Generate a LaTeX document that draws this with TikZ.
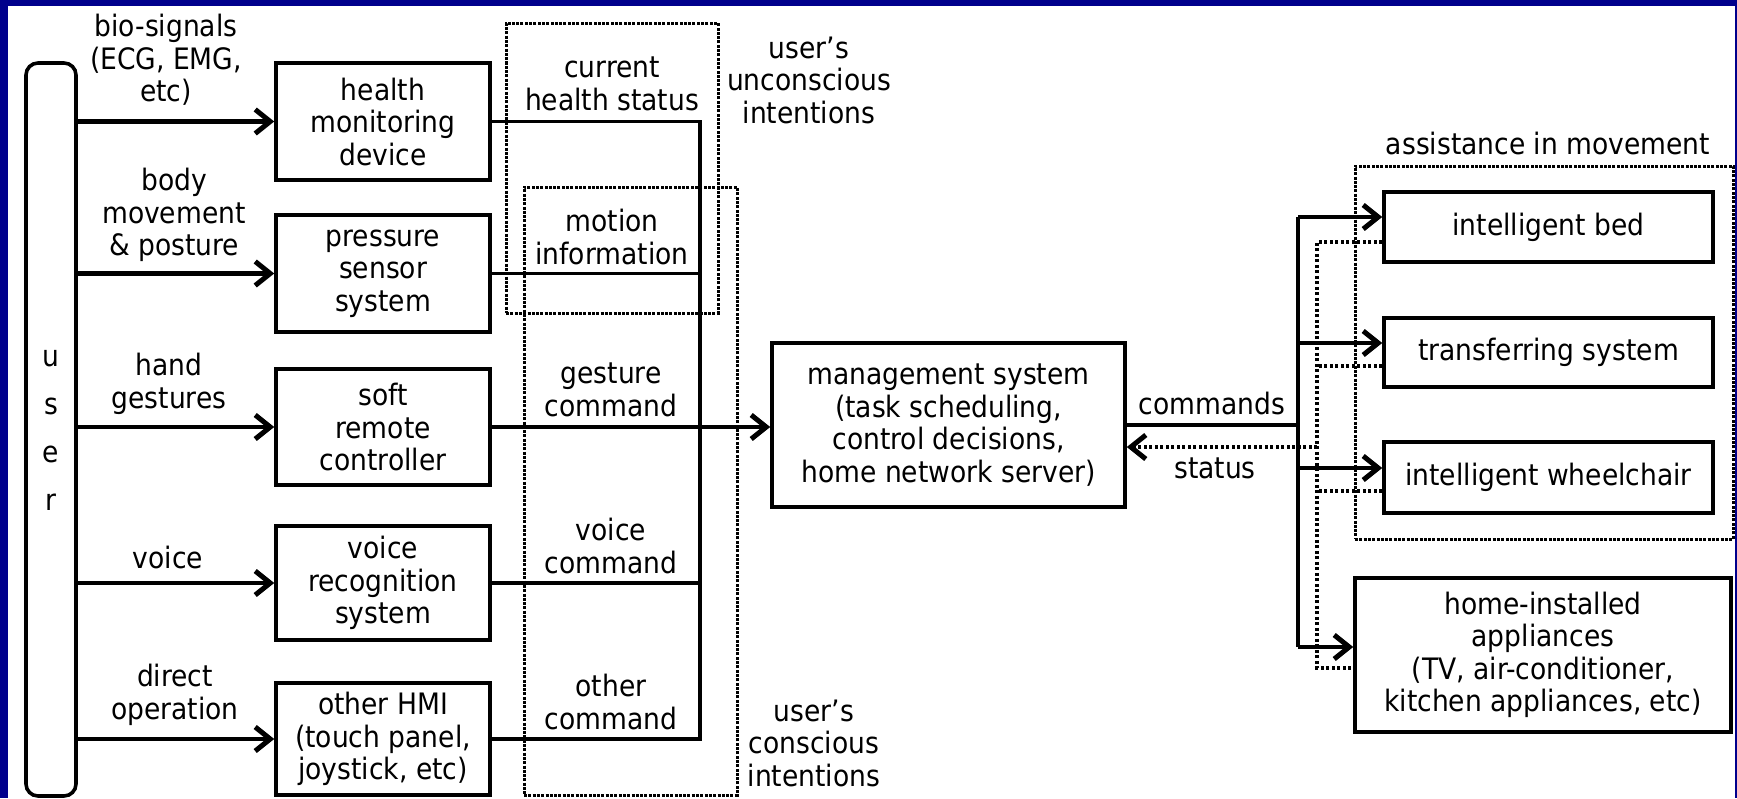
\documentclass[tikz,border=0pt]{standalone}
\usepackage{fontspec}
\setmainfont{DejaVu Sans Condensed}
\usetikzlibrary{arrows.meta}
\definecolor{slideblue}{RGB}{0,0,140}
\begin{document}
\begin{tikzpicture}[x=1pt,y=-1pt,
  every node/.style={font=\fontsize{29.5}{32.5}\selectfont, inner sep=0pt, align=center},
  box/.style={draw, line width=3.6pt, fill=white},
  dbox/.style={draw, line width=3pt, dash pattern=on 3pt off 1.3pt},
  conn/.style={line width=3.4pt},
  dots/.style={line width=4pt, dash pattern=on 3pt off 2.5pt},
  tipb/.tip={Straight Barb[length=15pt,width=24pt,line width=5pt]},
  arr/.style={line width=4.4pt, -tipb}
]
\useasboundingbox (0,0) rectangle (1737,798);
\fill[slideblue] (0,0) rectangle (1737,798);
\fill[white] (8,6) rectangle (1735,798);

% dotted group boxes
\node[dbox, minimum width=212pt, minimum height=290pt] (unc) at (612,168) {};
\node[dbox, minimum width=213pt, minimum height=608pt] (con) at (630.5,491) {};
\node[dbox, minimum width=378pt, minimum height=373pt] (assist) at (1544,352.5) {};

% user
\node[draw, line width=3.6pt, rounded corners=12pt, minimum width=50pt, minimum height=733pt] (user) at (51,429.5) {};
\node[font=\fontsize{29.5}{48}\selectfont] (userlbl) at (51,430) {u\\s\\e\\r};

% left boxes
\node[box, minimum width=214pt, minimum height=117pt] (health) at (383,121.5) {health\\monitoring\\device};
\node[box, minimum width=214pt, minimum height=117pt] (pressure) at (383,273.5) {pressure\\sensor\\system};
\node[box, minimum width=214pt, minimum height=116pt] (soft) at (383,427) {soft\\remote\\controller};
\node[box, minimum width=214pt, minimum height=114pt] (voice) at (383,583) {voice\\recognition\\system};
\node[box, minimum width=214pt, minimum height=112pt] (hmi) at (383,739) {other HMI\\(touch panel,\\joystick, etc)};

% management
\node[box, minimum width=353pt, minimum height=164pt] (mgmt) at (948.5,425) {management system\\(task scheduling,\\control decisions,\\home network server)};

% right boxes
\node[box, minimum width=329pt, minimum height=70pt] (bed) at (1548.5,227) {intelligent bed};
\node[box, minimum width=329pt, minimum height=69pt] (trans) at (1548.5,352.5) {transferring system};
\node[box, minimum width=329pt, minimum height=71pt] (wheel) at (1548.5,477.5) {intelligent wheelchair};
\node[box, minimum width=376pt, minimum height=154pt] (appl) at (1543,655) {home-installed\\appliances\\(TV, air-conditioner,\\kitchen appliances, etc)};

% labels
\node (l1) at (166,60) {bio-signals\\(ECG, EMG,\\etc)};
\node (l2) at (174,215) {body\\movement\\\& posture};
\node (l3) at (169,384) {hand\\gestures};
\node (l4) at (168,557) {voice};
\node (l5) at (175,695) {direct\\operation};
\node (m1) at (612,84) {current\\health status};
\node (m2) at (612,237) {motion\\information};
\node (m3) at (611,390) {gesture\\command};
\node (m4) at (611,546) {voice\\command};
\node (m5) at (611,702) {other\\command};
\node (u1) at (809,80) {user’s\\unconscious\\intentions};
\node (u2) at (814,743) {user’s\\conscious\\intentions};
\node (cmd) at (1212,403) {commands};
\node (st) at (1215,468) {status};
\node (as) at (1548,143) {assistance in movement};

% user -> devices
\draw[arr] (user.east |- health.west) -- (health.west);
\draw[arr] (user.east |- pressure.west) -- (pressure.west);
\draw[arr] (user.east |- soft.west) -- (soft.west);
\draw[arr] (user.east |- voice.west) -- (voice.west);
\draw[arr] (user.east |- hmi.west) -- (hmi.west);

% bus
\coordinate (bus) at (700,0);
\draw[conn] (health.east) -- (health.east -| bus) -- (hmi.east -| bus) -- (hmi.east);
\draw[conn] (pressure.east) -- (pressure.east -| bus);
\draw[conn] (voice.east) -- (voice.east -| bus);
\draw[arr] (soft.east) -- (soft.east -| mgmt.west);

% right side
\coordinate (cb) at (1298,0);
\coordinate (sb) at (1317,0);
\coordinate (bedin) at ([yshift=10pt]bed.west);
\coordinate (bedout) at ([yshift=-15pt]bed.west);
\coordinate (transin) at ([yshift=9.5pt]trans.west);
\coordinate (transout) at ([yshift=-13.5pt]trans.west);
\coordinate (wheelin) at ([yshift=9.5pt]wheel.west);
\coordinate (wheelout) at ([yshift=-13.5pt]wheel.west);
\coordinate (applin) at ([yshift=8pt]appl.west);
\coordinate (applout) at ([yshift=-13pt]appl.west);
\coordinate (stat) at ([yshift=-22pt]mgmt.east);

\draw[conn] (mgmt.east) -- (mgmt.east -| cb);
\draw[line width=4.4pt] (cb |- bedin) -- (cb |- applin);
\draw[arr] (cb |- bedin) -- (bedin);
\draw[arr] (cb |- transin) -- (transin);
\draw[arr] (cb |- wheelin) -- (wheelin);
\draw[arr] (cb |- applin) -- (applin);

\draw[dots] (bedout) -- (sb |- bedout) -- (sb |- applout) -- (applout);
\draw[dots] (transout) -- (sb |- transout);
\draw[dots] (wheelout) -- (sb |- wheelout);
\draw[dots, -tipb] (sb |- stat) -- (stat);
\end{tikzpicture}
\end{document}
